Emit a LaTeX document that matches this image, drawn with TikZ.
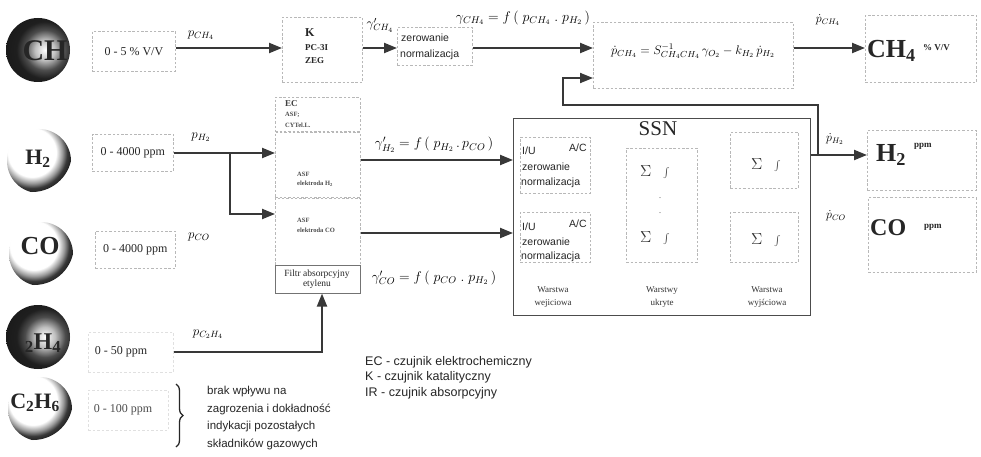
\RequirePackage{fix-cm}
\documentclass[tikz,border=0pt]{standalone}
\usepackage{fontspec}
\setmainfont{Liberation Serif}
\setsansfont{Liberation Sans}
\usetikzlibrary{arrows.meta,decorations.pathreplacing,calc}
\pgfdeclareradialshading{cres}{\pgfpoint{0bp}{0bp}}{color(0bp)=(white); color(15bp)=(white); color(19bp)=(black!40); color(22bp)=(black!78); color(25bp)=(black!88); color(50bp)=(black!88)}
\pgfdeclareradialshading{darkb}{\pgfpoint{0bp}{0bp}}{color(0bp)=(white); color(6bp)=(black!25); color(12bp)=(black!70); color(17bp)=(black!88); color(25bp)=(black!90); color(50bp)=(black!90)}
\begin{document}
\begin{tikzpicture}[x=1pt,y=-1pt,
  dbox/.style={draw=black!28, dash pattern=on 2.5pt off 1.8pt, line width=0.7pt, inner sep=0pt, anchor=north west},
  fbox/.style={draw=black!12, dash pattern=on 2.5pt off 2pt, line width=0.6pt, inner sep=0pt, anchor=north west},
  arr/.style={draw=black!78, line width=2.1pt, -{Triangle[length=13pt,width=10pt]}},
  lbl/.style={inner sep=0pt, font=\fontsize{13}{13}\selectfont},
  eqf/.style={inner sep=0pt, font=\fontsize{14}{14}\selectfont},
  rng/.style={inner sep=0pt, font=\fontsize{12}{12}\selectfont, text=black!85},
  sph/.style={circle, minimum size=64pt, inner sep=0pt},
  cresc/.style={sph, path picture={\shade[shading=cres] ([xshift=-7pt,yshift=9pt]path picture bounding box.center) circle (40pt);}},
  darks/.style={sph, path picture={\shade[shading=darkb] ([xshift=7pt]path picture bounding box.center) circle (42pt);}},
  stxt/.style={inner sep=0pt, text=black!85, font=\bfseries},
  sm/.style={inner sep=0pt, font=\sffamily\fontsize{10.5}{10.5}\selectfont, text=black!85, anchor=west},
  tiny/.style={inner sep=0pt, font=\bfseries\fontsize{6.5}{6.5}\selectfont, text=black!70, anchor=west},
  sig/.style={inner sep=0pt, font=\fontsize{16}{16}\selectfont, text=black!80},
  wl/.style={inner sep=0pt, align=center, font=\fontsize{9}{13}\selectfont, text=black!80},
  ob/.style={inner sep=0pt, text=black!85, font=\bfseries}
]
\fill[white] (0,0) rectangle (981,457);
\useasboundingbox (0,0) rectangle (981,457);

% spheres
\node[darks] (sCH4) at (38,50) {};
\node[cresc] (sH2) at (39,161) {};
\node[cresc] (sCO) at (41,254) {};
\node[darks] (sC2H4) at (38,337) {};
\node[cresc] (sC2H6) at (40,409) {};
\node[stxt, font=\bfseries\fontsize{30}{30}\selectfont] (tCH4) at (45,51) {CH};
\node[stxt, font=\bfseries\fontsize{22}{22}\selectfont] (tH2) at (38,159) {H\textsubscript{2}};
\node[stxt, font=\bfseries\fontsize{26}{26}\selectfont] (tCO) at (40,246) {CO};
\node[stxt, font=\bfseries\fontsize{24}{24}\selectfont] (tC2H4) at (43,343) {\textsubscript{2}H\textsubscript{4}};
\node[stxt, font=\bfseries\fontsize{22}{22}\selectfont] (tC2H6) at (35,403) {C\textsubscript{2}H\textsubscript{6}};

% range boxes
\node[dbox, rng, minimum width=83pt, minimum height=40pt] (rCH4) at (92,31) {0 - 5 \% V/V};
\node[dbox, rng, minimum width=81pt, minimum height=37pt] (rH2) at (92,134) {0 - 4000 ppm};
\node[dbox, rng, minimum width=80pt, minimum height=37pt] (rCO) at (95,231) {0 - 4000 ppm};
\node[fbox, minimum width=85pt, minimum height=40pt] (rC2H4) at (88,332) {};
\node[rng] (tC2H4r) at (121,352) {0 - 50 ppm};
\node[fbox, minimum width=80pt, minimum height=40pt] (rC2H6) at (88,390) {};
\node[rng, text=black!70] (tC2H6r) at (123,410) {0 - 100 ppm};

% p labels
\node[lbl] (pCH4) at (201,35) {$p_{CH_4}$};
\node[lbl] (pH2) at (201,137) {$p_{H_2}$};
\node[lbl] (pCO) at (199,237) {$p_{CO}$};
\node[lbl] (pC2H4) at (208,334) {$p_{C_2H_4}$};

% K sensor
\node[dbox, minimum width=80pt, minimum height=65pt] (K) at (282,17) {};
\node[inner sep=0pt, anchor=west, font=\bfseries\fontsize{12}{12}\selectfont, text=black!85] (Kt) at (305,33) {K};
\node[inner sep=0pt, anchor=west, font=\bfseries\fontsize{9}{9}\selectfont, text=black!85] (Kp) at (305,48) {PC-3I};
\node[inner sep=0pt, anchor=west, font=\bfseries\fontsize{9}{9}\selectfont, text=black!85] (Kz) at (305,61) {ZEG};
\node[lbl] (gCH4) at (380,25) {$\gamma'_{CH_4}$};

% zerowanie box
\node[dbox, minimum width=75pt, minimum height=38pt] (zero) at (397,27) {};
\node[sm] (z1) at (401,38) {zerowanie};
\node[sm] (z2) at (400,55) {normalizacja};

\node[eqf] (fCH4) at (523,18) {$\gamma_{CH_4} = f\,(\;p_{CH_4}\;.\;p_{H_2}\,)$};

% equation box
\node[dbox, minimum width=200pt, minimum height=66pt] (eq) at (593,22) {};
\node[inner sep=0pt, font=\fontsize{12.5}{12.5}\selectfont] (eqt) at (693,51) {$\dot p_{CH_4} = S^{-1}_{CH_4CH_4}\,\gamma_{O_2} - k_{H_2}\,\dot p_{H_2}$};
\node[lbl, font=\fontsize{12}{12}\selectfont] (dpCH4) at (828,20) {$\dot p_{CH_4}$};

% output boxes
\node[dbox, minimum width=111pt, minimum height=67pt] (oCH4) at (865,15) {};
\node[ob, anchor=west, font=\bfseries\fontsize{26}{26}\selectfont] (oCH4t) at (867,51) {CH\textsubscript{4}};
\node[ob, anchor=west, font=\bfseries\fontsize{9}{9}\selectfont] (oCH4u) at (923,48) {\% V/V};
\node[dbox, minimum width=109pt, minimum height=60pt] (oH2) at (867,130) {};
\node[ob, anchor=west, font=\bfseries\fontsize{26}{26}\selectfont] (oH2t) at (876,155) {H\textsubscript{2}};
\node[ob, anchor=west, font=\bfseries\fontsize{9}{9}\selectfont] (oH2u) at (914,146) {ppm};
\node[dbox, minimum width=108pt, minimum height=75pt] (oCO) at (868,197) {};
\node[ob, anchor=west, font=\bfseries\fontsize{24}{24}\selectfont] (oCOt) at (870,228) {CO};
\node[ob, anchor=west, font=\bfseries\fontsize{9}{9}\selectfont] (oCOu) at (924,227) {ppm};
\node[lbl, font=\fontsize{12}{12}\selectfont] (dpH2) at (835,139) {$\dot p_{H_2}$};
\node[lbl, font=\fontsize{12}{12}\selectfont] (dpCO) at (836,216) {$\dot p_{CO}$};

% electrochemical column
\node[dbox, minimum width=85pt, minimum height=34pt] (EC) at (275,97) {};
\node[inner sep=0pt, anchor=west, font=\bfseries\fontsize{9}{9}\selectfont, text=black!75] (ECt) at (285,104) {EC};
\node[tiny] (ECa) at (285,115) {ASF;};
\node[tiny] (ECc) at (285,125) {CYTel.L.};
\node[dbox, minimum width=85pt, minimum height=65pt] (sEH2) at (275,132) {};
\node[tiny] (a1) at (297,174) {ASF};
\node[tiny] (e1) at (297,184) {elektroda H\textsubscript{2}};
\node[dbox, minimum width=85pt, minimum height=67pt] (sECO) at (275,198) {};
\node[tiny] (a2) at (297,220) {ASF};
\node[tiny] (e2) at (297,230) {elektroda CO};
\node[draw=black!55, line width=0.6pt, inner sep=0pt, anchor=north west, minimum width=85pt, minimum height=28pt] (filtr) at (275,265) {};
\node[inner sep=0pt, align=center, font=\fontsize{9.5}{10.5}\selectfont, text=black!85] (filtrt) at (317,279) {Filtr absorpcyjny\\etylenu};

\node[eqf] (fH2) at (434,145) {$\gamma'_{H_2} = f\,(\;p_{H_2}\,.\,p_{CO}\,)$};
\node[eqf] (fCO) at (434,278) {$\gamma'_{CO} = f\,(\;p_{CO}\;.\;p_{H_2}\,)$};

% SSN
\node[draw=black!70, line width=1.2pt, inner sep=0pt, anchor=north west, minimum width=297pt, minimum height=197pt] (SSN) at (513,118) {};
\node[inner sep=0pt, font=\fontsize{21}{21}\selectfont, text=black!85] (SSNt) at (658,129) {SSN};
\node[dbox, minimum width=70pt, minimum height=56pt] (in1) at (520,137) {};
\node[sm] (i1a) at (522,151) {I/U};
\node[sm] (i1b) at (569,148) {A/C};
\node[sm] (i1c) at (522,167) {zerowanie};
\node[sm] (i1d) at (521,183) {normalizacja};
\node[dbox, minimum width=70pt, minimum height=50pt] (in2) at (520,212) {};
\node[sm] (i2a) at (522,227) {I/U};
\node[sm] (i2b) at (569,224) {A/C};
\node[sm] (i2c) at (522,242) {zerowanie};
\node[sm] (i2d) at (521,257) {normalizacja};
\node[dbox, minimum width=71pt, minimum height=114pt] (hid) at (626,148) {};
\node[sig] (h1) at (655,172) {$\Sigma\;\;\int$};
\node[sig] (h2) at (655,238) {$\Sigma\;\;\int$};
\node[inner sep=0pt, text=black!50] (hd1) at (660,198) {.};
\node[inner sep=0pt, text=black!50] (hd2) at (660,213) {.};
\node[dbox, minimum width=68pt, minimum height=56pt] (o1) at (730,132) {};
\node[sig] (o1t) at (766,165) {$\Sigma\;\;\int$};
\node[dbox, minimum width=68pt, minimum height=50pt] (o2) at (730,212) {};
\node[sig] (o2t) at (766,240) {$\Sigma\;\;\int$};
\node[wl] (w1) at (553,297) {Warstwa\\wejiciowa};
\node[wl] (w2) at (662,297) {Warstwy\\ukryte};
\node[wl] (w3) at (767,297) {Warstwa\\wyjściowa};

% coordinates
\coordinate (row1) at (0,48);
\coordinate (rowH) at (0,153);
\coordinate (brH) at (230,153);
\coordinate (rowC) at (0,214);
\coordinate (rowA) at (0,160);
\coordinate (rowB) at (0,233);
\coordinate (rowO) at (0,155);
\coordinate (lp) at (818,155);
\coordinate (lc) at (563,105);
\coordinate (fb) at (0,78);
\coordinate (fx) at (322,0);

% connectors
\draw[arr] (rCH4.east |- row1) -- (K.west |- row1);
\draw[arr] (K.east |- row1) -- (zero.west |- row1);
\draw[arr] (zero.east |- row1) -- (eq.west |- row1);
\draw[arr] (eq.east |- row1) -- (oCH4.west |- row1);
\draw[arr] (rH2.east |- rowH) -- (sEH2.west |- rowH);
\draw[arr] (brH) |- (sECO.west |- rowC);
\draw[arr] (sEH2.east |- rowA) -- (SSN.west |- rowA);
\draw[arr] (sECO.east |- rowB) -- (SSN.west |- rowB);
\draw[arr] (rC2H4.east) -| (fx |- filtr.south);
\draw[arr] (SSN.east |- rowO) -- (oH2.west |- rowO);
\draw[arr, line width=1.8pt] (lp) |- (lc) |- (eq.west |- fb);

% brace and notes
\draw[decorate, decoration={brace, amplitude=7pt}, line width=1.3pt, black!85] (176,384) -- (176,447);
\node[anchor=north west, align=left, inner sep=0pt, font=\sffamily\fontsize{11.5}{17.5}\selectfont, text=black!85] (note) at (207,386) {brak wpływu na\\zagrozenia i dokładność\\indykacji pozostałych\\składników gazowych};
\node[anchor=north west, align=left, inner sep=0pt, font=\sffamily\fontsize{12.5}{15.5}\selectfont, text=black!85] (leg) at (365,356) {EC - czujnik elektrochemiczny\\K - czujnik katalityczny\\IR - czujnik absorpcyjny};
\end{tikzpicture}
\end{document}
